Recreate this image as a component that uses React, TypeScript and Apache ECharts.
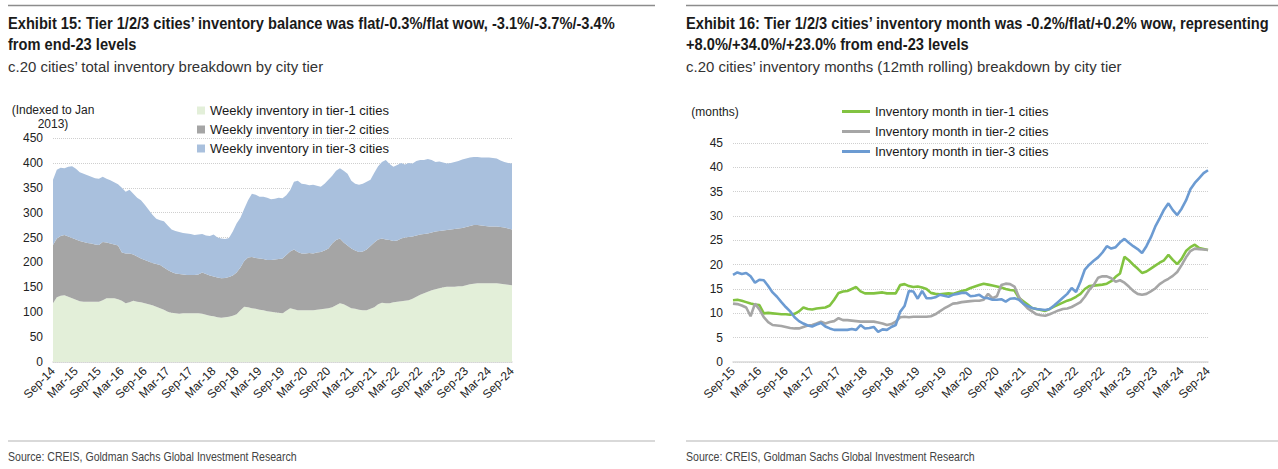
import React, { useEffect, useRef } from "react";
import * as echarts from "echarts";

const MONTHS = ["Jan", "Feb", "Mar", "Apr", "May", "Jun", "Jul", "Aug", "Sep", "Oct", "Nov", "Dec"];
function monthRange(startYear: number, startMonth: number, count: number): string[] {
  const out: string[] = [];
  for (let i = 0; i < count; i++) {
    const mi = startMonth + i;
    const y = startYear + Math.floor(mi / 12);
    out.push(MONTHS[mi % 12] + "-" + String(y % 100).padStart(2, "0"));
  }
  return out;
}

// Exhibit 15: monthly categories Sep-14 .. Sep-24
const leftCategories = monthRange(2014, 8, 121);
const leftSeriesNames = [
  "Weekly inventory in tier-1 cities",
  "Weekly inventory in tier-2 cities",
  "Weekly inventory in tier-3 cities",
];
// cumulative levels (index, Jan 2013 = 100)
const tier1Level = [
  118, 130, 133, 134, 131, 128, 125, 122, 121, 121,
  121, 121, 121, 124, 128, 128, 128, 126, 123, 118,
  120, 123, 121, 120, 118, 116, 114, 111, 108, 105,
  101, 99, 98, 97, 98, 98, 98, 98, 98, 97,
  95, 93, 92, 90, 89, 90, 91, 93, 96, 104,
  111, 110, 108, 107, 105, 104, 102, 101, 100, 99,
  98, 103, 108, 106, 104, 104, 104, 104, 104, 105,
  106, 107, 108, 110, 114, 118, 116, 112, 108, 107,
  105, 104, 104, 107, 110, 116, 119, 118, 118, 120,
  121, 122, 123, 124, 127, 131, 135, 138, 141, 144,
  146, 148, 150, 151, 151, 151, 152, 152, 154, 156,
  157, 158, 158, 158, 158, 158, 158, 157, 156, 155,
  154,
];
const tier12Level = [
  235, 248, 253, 255, 252, 249, 246, 243, 241, 239,
  238, 236, 235, 241, 240, 238, 236, 234, 220, 218,
  218, 216, 212, 208, 205, 202, 199, 197, 195, 190,
  185, 181, 178, 177, 176, 175, 175, 175, 176, 180,
  177, 174, 172, 170, 168, 169, 171, 174, 180, 190,
  203, 210, 211, 209, 208, 207, 205, 205, 206, 207,
  208, 215, 222, 226, 221, 218, 218, 219, 218, 220,
  221, 224, 228, 238, 245, 248, 240, 234, 228, 224,
  221, 222, 226, 233, 240, 246, 248, 246, 245, 243,
  244, 248, 250, 251, 252, 254, 256, 257, 258, 260,
  262, 263, 264, 265, 266, 267, 268, 269, 271, 273,
  275, 275, 274, 273, 272, 272, 272, 271, 270, 268,
  266,
];
const totalLevel = [
  366, 386, 390, 389, 392, 393, 388, 381, 378, 375,
  372, 369, 368, 372, 368, 365, 361, 357, 350, 342,
  346, 338, 330, 325, 316, 306, 296, 288, 285, 283,
  274, 266, 263, 261, 259, 258, 257, 255, 256, 257,
  254, 253, 256, 250, 248, 247, 249, 262, 278, 290,
  308, 325, 338, 336, 332, 332, 330, 327, 328, 330,
  329, 335, 345, 362, 364, 358, 357, 355, 356, 354,
  352, 358, 366, 374, 384, 389, 384, 378, 364, 358,
  356, 358, 362, 366, 380, 393, 402, 406, 398, 392,
  396, 400, 397, 400, 399, 404, 406, 406, 408, 406,
  402, 403, 401, 399, 400, 402, 404, 407, 409, 411,
  412, 412, 411, 411, 411, 410, 409, 405, 402, 400,
  399,
];
const tier1Inventory = tier1Level;
const tier2Inventory = tier12Level.map((v, i) => v - tier1Level[i]);
const tier3Inventory = totalLevel.map((v, i) => v - tier12Level[i]);

// Exhibit 16: monthly categories Sep-15 .. Sep-24
const rightCategories = monthRange(2015, 8, 109);
const rightSeriesNames = [
  "Inventory month in tier-1 cities",
  "Inventory month in tier-2 cities",
  "Inventory month in tier-3 cities",
];
const tier1Months = [
  12.7, 12.8, 12.6, 12.3, 12.0, 11.8, 11.7, 10.0, 10.1, 10.0,
  9.9, 9.8, 9.8, 9.7, 9.9, 10.4, 11.2, 10.9, 10.8, 11.0,
  11.1, 11.2, 11.6, 12.8, 14.2, 14.5, 14.6, 15.0, 15.4, 14.5,
  14.1, 14.1, 14.1, 14.2, 14.3, 14.1, 14.1, 14.1, 15.8, 16.0,
  15.6, 15.4, 15.5, 15.3, 15.0, 14.2, 14.0, 13.9, 14.0, 14.1,
  14.0, 14.3, 14.6, 14.8, 15.2, 15.5, 15.8, 16.1, 15.9, 15.7,
  15.5, 15.3, 15.0, 14.8, 14.7, 13.2, 12.5, 11.8, 11.1, 10.9,
  10.7, 10.5, 10.9, 11.4, 11.8, 12.2, 12.6, 12.9, 13.4, 14.0,
  15.0, 15.6, 15.7, 15.8, 15.9, 16.1, 16.6, 17.5, 18.2, 21.6,
  20.9, 20.0, 19.2, 18.3, 18.6, 19.2, 19.8, 20.4, 20.9, 22.0,
  21.0, 20.1, 21.2, 22.8, 23.6, 24.1, 23.4, 23.2, 23.0,
];
const tier2Months = [
  12.0, 11.9, 11.6, 11.2, 9.4, 12.0, 10.8, 9.2, 8.2, 7.6,
  7.5, 7.4, 7.2, 7.0, 6.9, 6.9, 7.2, 7.5, 7.6, 7.9,
  8.3, 7.9, 8.2, 8.4, 9.0, 8.6, 8.6, 8.5, 8.4, 8.3,
  8.3, 8.3, 8.3, 8.1, 7.9, 7.6, 7.8, 8.3, 9.2, 9.3,
  9.2, 9.3, 9.3, 9.3, 9.3, 9.4, 9.8, 10.4, 11.0, 11.5,
  12.0, 12.1, 12.3, 12.4, 12.5, 12.6, 12.6, 12.8, 14.0, 13.1,
  13.5, 15.8, 16.1, 16.0, 15.5, 13.4, 12.0, 11.0, 10.4, 9.8,
  9.6, 9.5, 9.8, 10.2, 10.6, 10.9, 11.0, 11.3, 11.8, 12.3,
  13.4, 14.8, 15.8, 17.3, 17.6, 17.6, 17.2, 16.5, 16.8, 16.3,
  15.5, 14.6, 14.0, 13.8, 14.0, 14.5, 15.1, 16.0, 16.6, 17.1,
  17.7, 18.5, 19.9, 21.5, 22.8, 23.3, 23.2, 23.1, 23.0,
];
const tier3Months = [
  17.9, 18.4, 18.1, 18.3, 17.6, 16.3, 16.9, 16.8, 15.6, 14.3,
  13.4, 12.3, 11.3, 10.4, 9.2, 8.4, 7.9, 7.5, 7.3, 7.7,
  8.0, 7.3, 6.9, 6.6, 6.6, 6.6, 6.6, 6.8, 6.6, 7.6,
  6.9, 7.0, 7.2, 6.2, 6.7, 6.6, 7.2, 7.6, 10.3, 11.5,
  14.6, 14.5, 13.0, 14.6, 13.1, 13.1, 13.3, 13.8, 13.6, 13.4,
  13.8, 14.0, 14.2, 14.2, 13.5, 13.6, 13.8, 13.2, 13.1, 12.8,
  12.8, 12.9, 12.4, 13.0, 13.1, 12.8, 12.0, 11.5, 11.1, 10.9,
  10.8, 10.7, 10.9, 11.6, 12.4, 13.2, 14.0, 15.2, 14.4, 16.5,
  19.0, 20.0, 20.8, 21.5, 22.5, 23.8, 23.3, 23.6, 24.6, 25.3,
  24.5, 23.8, 23.2, 22.4, 23.8, 25.6, 27.8, 29.5, 31.3, 32.6,
  31.2, 30.2, 31.5, 33.2, 35.5, 36.8, 37.8, 38.8, 39.4,
];

const leftTitleLines = [
  "Exhibit 15: Tier 1/2/3 cities\u2019 inventory balance was flat/-0.3%/flat wow, -3.1%/-3.7%/-3.4%",
  "from end-23 levels",
];
const leftSubtitle = "c.20 cities\u2019 total inventory breakdown by city tier";
const rightTitleLines = [
  "Exhibit 16: Tier 1/2/3 cities\u2019 inventory month was -0.2%/flat/+0.2% wow, representing",
  "+8.0%/+34.0%/+23.0% from end-23 levels",
];
const rightSubtitle = "c.20 cities\u2019 inventory months (12mth rolling) breakdown by city tier";
const sourceText = "Source: CREIS, Goldman Sachs Global Investment Research";

const FONT = "'Liberation Sans', Arial, Helvetica, sans-serif";
const TITLE_FONT = `bold 16px ${FONT}`;
const SUB_FONT = `15px ${FONT}`;
const SOURCE_FONT = `12.5px ${FONT}`;

const AREA_COLORS = ["#e3efd9", "#a5a5a5", "#a9c0dd"];
const LINE_COLORS = ["#82c341", "#a6a6a6", "#6c9bd2"];

function measure(text: string, font: string): number {
  const ctx = document.createElement("canvas").getContext("2d");
  if (!ctx) return 1;
  ctx.font = font;
  return ctx.measureText(text).width || 1;
}

export default function App() {
  const ref = useRef<HTMLDivElement>(null);
  useEffect(() => {
    if (!ref.current) return;
    const chart = echarts.init(ref.current, undefined, { renderer: "svg" });
    // emulate the narrow typeface of the reference by horizontal scaling
    const titleScale = Math.min(
      622 / measure(leftTitleLines[0], TITLE_FONT),
      584 / measure(rightTitleLines[0], TITLE_FONT)
    );
    const subScale = 316 / measure(leftSubtitle, SUB_FONT);
    const srcScale = 289 / measure(sourceText, SOURCE_FONT);
    const txt = (text: string, x: number, y: number, font: string, fill: string, s: number) => ({
      type: "text",
      x,
      y,
      scaleX: s,
      style: { text, font, fill, verticalAlign: "middle" },
    });
    const axisLabel = { fontFamily: FONT, fontSize: 12, color: "#222" };
    const option: any = {
      animation: false,
      backgroundColor: "#ffffff",
      textStyle: { fontFamily: FONT },
      grid: [
        { left: 53, top: 138, width: 459, height: 224 },
        { left: 733, top: 143, width: 475, height: 219 },
      ],
      legend: [
        {
          data: leftSeriesNames,
          orient: "vertical",
          left: 197,
          top: 104,
          padding: 0,
          itemWidth: 8,
          itemHeight: 8,
          itemGap: 6,
          icon: "rect",
          textStyle: { fontFamily: FONT, fontSize: 13, color: "#1a1a1a" },
        },
        {
          data: rightSeriesNames,
          orient: "vertical",
          left: 842,
          top: 105,
          padding: 0,
          itemWidth: 28,
          itemHeight: 3,
          itemGap: 7,
          icon: "rect",
          textStyle: { fontFamily: FONT, fontSize: 13, color: "#1a1a1a" },
        },
      ],
      xAxis: [
        {
          type: "category",
          gridIndex: 0,
          data: leftCategories,
          boundaryGap: false,
          axisLine: { lineStyle: { color: "#d9d9d9", width: 1.5 } },
          axisTick: { show: false },
          axisLabel: { ...axisLabel, interval: 5, rotate: 45, margin: 7 },
          splitLine: { show: false },
        },
        {
          type: "category",
          gridIndex: 1,
          data: rightCategories,
          boundaryGap: false,
          axisLine: { lineStyle: { color: "#d9d9d9", width: 1.5 } },
          axisTick: { show: false },
          axisLabel: { ...axisLabel, interval: 5, rotate: 45, margin: 7 },
          splitLine: { show: false },
        },
      ],
      yAxis: [
        {
          type: "value",
          gridIndex: 0,
          min: 0,
          max: 450,
          interval: 50,
          name: "(Indexed to Jan\n2013)",
          nameLocation: "end",
          nameGap: 7,
          nameTextStyle: { fontFamily: FONT, fontSize: 12, color: "#222", lineHeight: 14, align: "center" },
          axisLine: { show: false },
          axisTick: { show: false },
          axisLabel: { ...axisLabel, margin: 10 },
          splitLine: { lineStyle: { color: "#cfcfcf", type: "dotted", width: 1 } },
        },
        {
          type: "value",
          gridIndex: 1,
          min: 0,
          max: 45,
          interval: 5,
          name: "(months)",
          nameLocation: "end",
          nameGap: 25,
          nameTextStyle: { fontFamily: FONT, fontSize: 12, color: "#222", align: "center", padding: [0, 36, 0, 0] },
          axisLine: { show: false },
          axisTick: { show: false },
          axisLabel: { ...axisLabel, margin: 10 },
          splitLine: { lineStyle: { color: "#cfcfcf", type: "dotted", width: 1 } },
        },
      ],
      series: [
        ...[tier1Inventory, tier2Inventory, tier3Inventory].map((d, i) => ({
          name: leftSeriesNames[i],
          type: "line",
          xAxisIndex: 0,
          yAxisIndex: 0,
          stack: "inventory",
          data: d,
          symbol: "none",
          color: AREA_COLORS[i],
          lineStyle: { width: 0 },
          areaStyle: { color: AREA_COLORS[i], opacity: 1 },
        })),
        ...[tier1Months, tier2Months, tier3Months].map((d, i) => ({
          name: rightSeriesNames[i],
          type: "line",
          xAxisIndex: 1,
          yAxisIndex: 1,
          data: d,
          symbol: "none",
          color: LINE_COLORS[i],
          lineStyle: { width: 2.6, color: LINE_COLORS[i] },
        })),
      ],
      graphic: [
        { type: "line", shape: { x1: 8, y1: 5.5, x2: 655, y2: 5.5 }, style: { stroke: "#8c8c8c", lineWidth: 1.5 } },
        { type: "line", shape: { x1: 686, y1: 5.5, x2: 1278, y2: 5.5 }, style: { stroke: "#8c8c8c", lineWidth: 1.5 } },
        txt(leftTitleLines[0], 8, 23, TITLE_FONT, "#1a1a1a", titleScale),
        txt(leftTitleLines[1], 8, 44, TITLE_FONT, "#1a1a1a", titleScale),
        txt(leftSubtitle, 8, 66, SUB_FONT, "#333", subScale),
        txt(rightTitleLines[0], 686, 23, TITLE_FONT, "#1a1a1a", titleScale),
        txt(rightTitleLines[1], 686, 44, TITLE_FONT, "#1a1a1a", titleScale),
        txt(rightSubtitle, 686, 66, SUB_FONT, "#333", subScale),
        { type: "line", shape: { x1: 8, y1: 441, x2: 655, y2: 441 }, style: { stroke: "#b3b3b3", lineWidth: 1 } },
        { type: "line", shape: { x1: 686, y1: 441, x2: 1278, y2: 441 }, style: { stroke: "#b3b3b3", lineWidth: 1 } },
        txt(sourceText, 8, 457, SOURCE_FONT, "#444", srcScale),
        txt(sourceText, 686, 457, SOURCE_FONT, "#444", srcScale),
      ],
    };
    chart.setOption(option);
    return () => chart.dispose();
  }, []);
  return (
    <div
      ref={ref}
      style={{ position: "absolute", left: 0, top: 0, width: 1278, height: 469, background: "#fff" }}
    />
  );
}
